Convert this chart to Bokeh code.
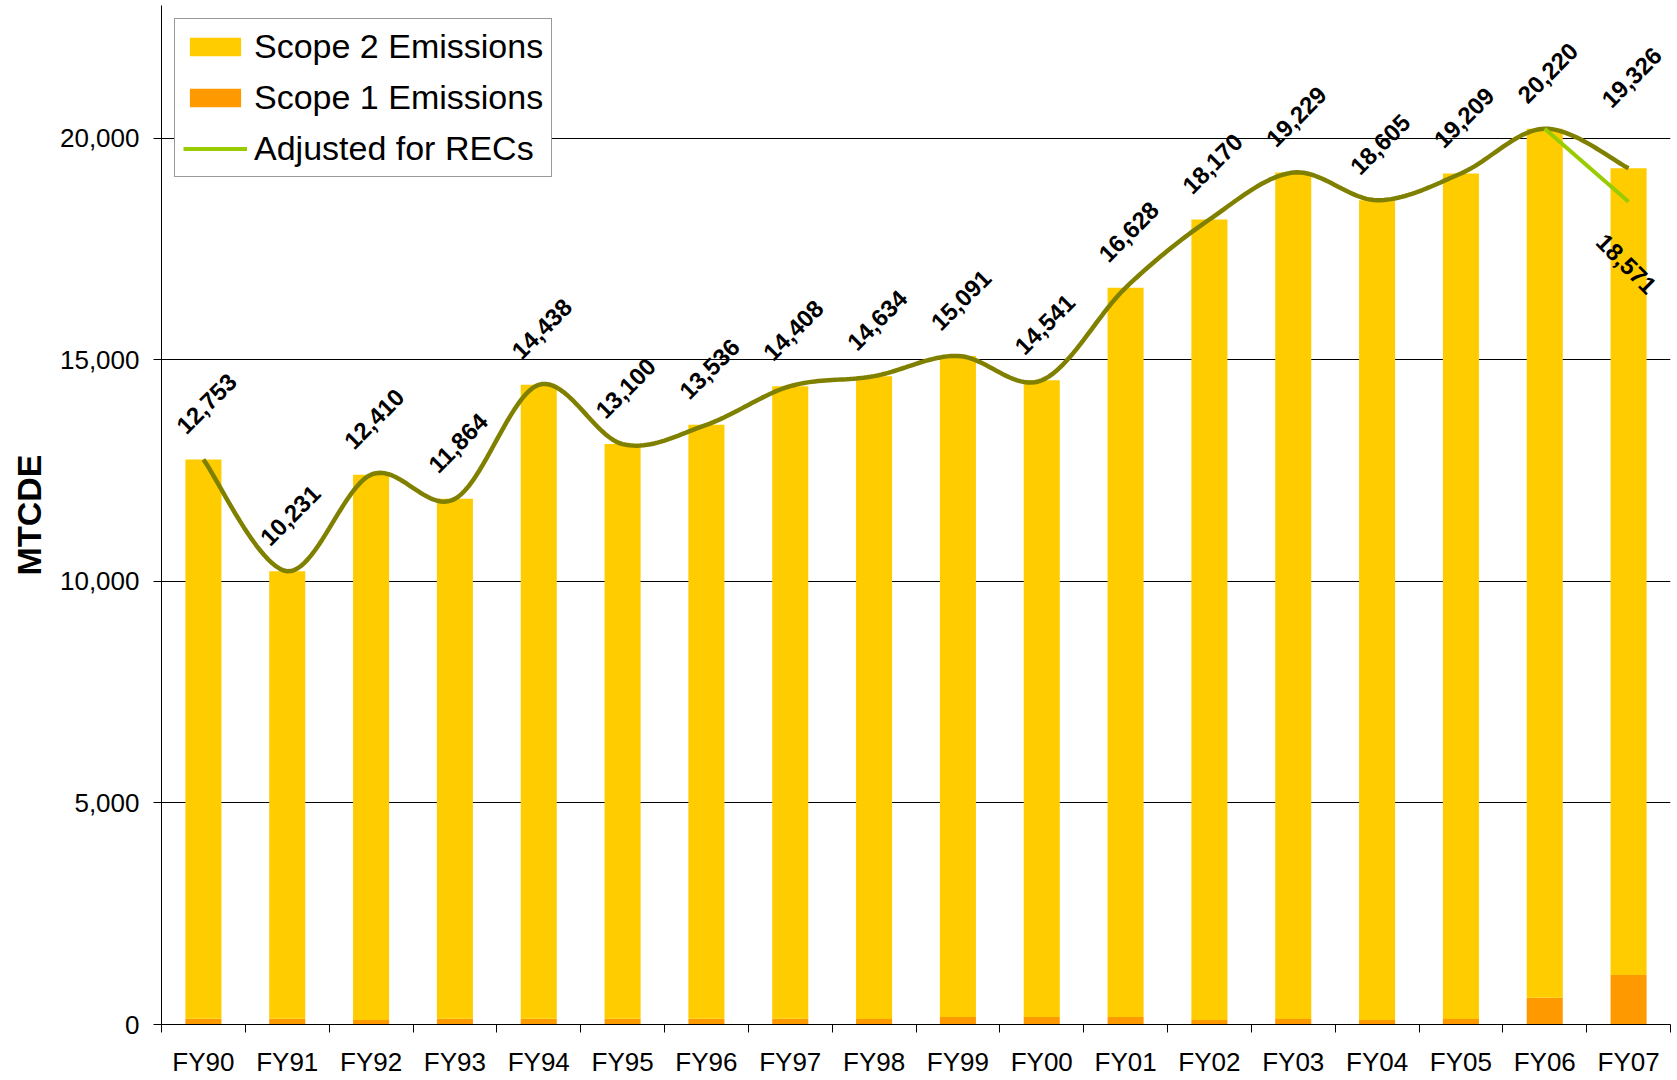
import math
from bokeh.plotting import figure
from bokeh.models import (FixedTicker, NumeralTickFormatter, Range1d, Legend, LegendItem,
                          ColumnDataSource, CustomJSTickFormatter)
from bokeh.core.properties import value
from bokeh.embed import file_html
from bokeh.resources import INLINE

# ---- data ----
years = ["FY90", "FY91", "FY92", "FY93", "FY94", "FY95", "FY96", "FY97", "FY98",
         "FY99", "FY00", "FY01", "FY02", "FY03", "FY04", "FY05", "FY06", "FY07"]
total_emissions = [12753, 10231, 12410, 11864, 14438, 13100, 13536, 14408, 14634,
                   15091, 14541, 16628, 18170, 19229, 18605, 19209, 20220, 19326]
scope1 = [130, 130, 100, 130, 130, 130, 130, 130, 125,
          170, 170, 170, 100, 125, 100, 125, 605, 1120]
scope2 = [t - s for t, s in zip(total_emissions, scope1)]
rec_years = ["FY06", "FY07"]
adjusted_recs = [20220, 18571]
y_ticks = [0, 5000, 10000, 15000, 20000]

FONT = "Liberation Sans"
n = len(years)
xc = [i + 0.5 for i in range(n)]

W, H = 1677, 1080
LEFT, RIGHT, TOP, BOTTOM = 161, 7, 5, 56
Y_END = 23000

p = figure(width=W, height=H, x_range=Range1d(0, n), y_range=Range1d(0, Y_END),
           output_backend="svg", toolbar_location=None,
           min_border_left=LEFT, min_border_right=RIGHT, min_border_top=TOP,
           min_border_bottom=BOTTOM)
p.outline_line_color = None
p.background_fill_color = "white"
p.border_fill_color = "white"

# grid
p.xgrid.visible = False
p.ygrid.ticker = FixedTicker(ticks=y_ticks)
p.ygrid.grid_line_color = "#000000"
p.ygrid.grid_line_width = 1

# bars
src = ColumnDataSource(dict(x=xc, s1=scope1, s2=scope2, total=total_emissions,
                            lbl=["{:,}".format(v) for v in total_emissions],
                            off=[-56] * (n - 1) + [-91]))
r1 = p.vbar(x="x", bottom=0, top="s1", width=0.43, source=src,
            fill_color="#FF9900", line_color=None)
r2 = p.vbar(x="x", bottom="s1", top="total", width=0.43, source=src,
            fill_color="#FFCC00", line_color=None)

# smoothed total line (Excel-like Bezier smoothing, computed in pixel space)
frame_w = W - LEFT - RIGHT
frame_h = H - BOTTOM - TOP
sx = frame_w / n
sy = frame_h / Y_END
P = [(x * sx, y * sy) for x, y in zip(xc, total_emissions)]
lx, ly = [], []
steps = 24
for i in range(len(P) - 1):
    p0 = P[i - 1] if i > 0 else P[i]
    p1 = P[i]
    p2 = P[i + 1]
    p3 = P[i + 2] if i + 2 < len(P) else P[i + 1]
    c1 = (p1[0] + (p2[0] - p0[0]) / 6, p1[1] + (p2[1] - p0[1]) / 6)
    c2 = (p2[0] - (p3[0] - p1[0]) / 6, p2[1] - (p3[1] - p1[1]) / 6)
    for k in range(0 if i == 0 else 1, steps + 1):
        t = k / steps
        a = (1 - t) ** 3
        b = 3 * (1 - t) ** 2 * t
        c = 3 * (1 - t) * t ** 2
        d = t ** 3
        bx = a * p1[0] + b * c1[0] + c * c2[0] + d * p2[0]
        by = a * p1[1] + b * c1[1] + c * c2[1] + d * p2[1]
        lx.append(bx / sx)
        ly.append(by / sy)
p.line(lx, ly, line_color="#808000", line_width=4.5)

# adjusted for RECs line
rec_x = [years.index(y) + 0.5 for y in rec_years]
r3 = p.line(rec_x, adjusted_recs, line_color="#99CC00", line_width=4)

# data labels
p.text(x="x", y="total", text="lbl", source=src, angle=math.pi / 4,
       text_align="center", text_baseline="middle", x_offset=3, y_offset="off",
       text_font=value(FONT), text_font_style="bold", text_font_size="24px",
       text_color="black")
p.text(x=[rec_x[-1]], y=[adjusted_recs[-1]], text=["{:,}".format(adjusted_recs[-1])],
       angle=-math.pi / 4, text_align="center", text_baseline="middle",
       x_offset=-2, y_offset=62, text_font=value(FONT), text_font_style="bold",
       text_font_size="24px", text_color="black")

# x axis
xa = p.xaxis[0]
xa.ticker = FixedTicker(ticks=xc, minor_ticks=list(range(n + 1)))
xa.formatter = CustomJSTickFormatter(args=dict(labels=years),
                                     code="return labels[Math.floor(tick)];")
xa.major_tick_out = 0
xa.major_tick_in = 0
xa.minor_tick_out = 8
xa.minor_tick_in = 0
xa.minor_tick_line_color = "black"
xa.axis_line_color = "black"
xa.major_label_text_font = FONT
xa.major_label_text_font_size = "26px"
xa.major_label_text_color = "black"
xa.major_label_standoff = 14

# y axis
ya = p.yaxis[0]
ya.ticker = FixedTicker(ticks=y_ticks)
ya.formatter = NumeralTickFormatter(format="0,0")
ya.major_tick_out = 8
ya.major_tick_in = 0
ya.minor_tick_out = 0
ya.minor_tick_in = 0
ya.major_tick_line_color = "black"
ya.axis_line_color = "black"
ya.major_label_text_font = FONT
ya.major_label_text_font_size = "26px"
ya.major_label_text_color = "black"
ya.major_label_standoff = 14
ya.axis_label = "MTCDE"
ya.axis_label_text_font = FONT
ya.axis_label_text_font_size = "34px"
ya.axis_label_text_font_style = "bold"
ya.axis_label_text_color = "black"
ya.axis_label_standoff = 9

# legend
legend = Legend(items=[LegendItem(label="Scope 2 Emissions", renderers=[r2]),
                       LegendItem(label="Scope 1 Emissions", renderers=[r1]),
                       LegendItem(label="Adjusted for RECs", renderers=[r3])],
                location="top_left", margin=13, padding=8, spacing=12,
                glyph_width=64, glyph_height=23, label_standoff=7,
                label_text_font=FONT, label_text_font_size="34px",
                label_text_color="black",
                border_line_color="#333333", border_line_width=1.5,
                background_fill_color="white", background_fill_alpha=1)
p.add_layout(legend)

open("out.html", "w").write(file_html(p, INLINE))
